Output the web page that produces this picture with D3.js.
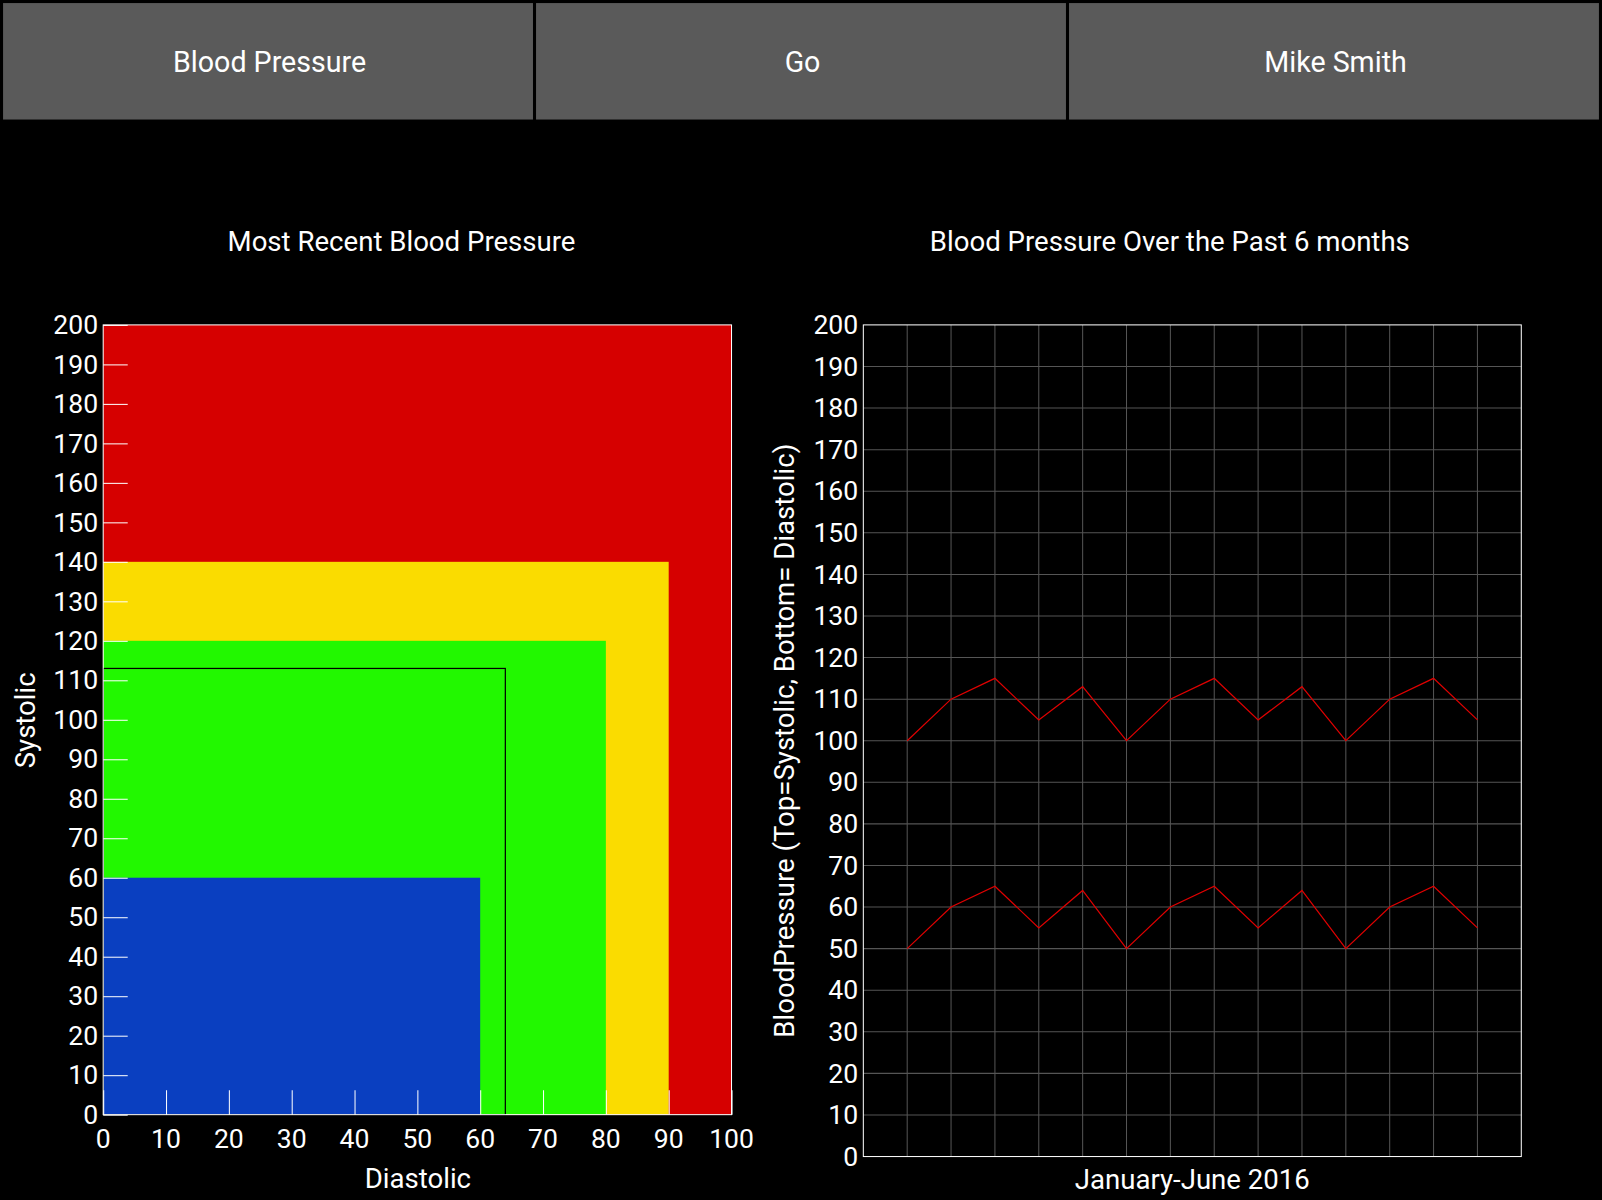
<!DOCTYPE html>
<html><head><meta charset="utf-8">
<script src="https://cdn.jsdelivr.net/npm/d3@7"></script>
<style>body{margin:0;background:#000;font-family:Roboto,sans-serif}</style>
</head><body><svg id="c" width="1602" height="1200"></svg>
<script>
const buttons = ['Blood Pressure', 'Go', 'Mike Smith'];
// zones: [diastolic max, systolic max, colour]
const zones = [[100, 200, '#d60000'], [90, 140, '#fadc00'], [80, 120, '#22f800'], [60, 60, '#0a3fc0']];
const latest = { diastolic: 64, systolic: 113 };
const systolic = [100, 110, 115, 105, 113, 100, 110, 115, 105, 113, 100, 110, 115, 105];
const diastolic = [50, 60, 65, 55, 64, 50, 60, 65, 55, 64, 50, 60, 65, 55];

const root = d3.select('#c');
root.append('rect').attr('width', 1602).attr('height', 1200).attr('fill', '#000');
const svg = root.append('g').attr('transform', `scale(${1602 / 1568})`);

const bx = d3.scaleBand().domain(buttons).range([3, 1568]);
const bg = svg.selectAll('g.b').data(buttons).enter().append('g');
bg.append('rect').attr('x', d => bx(d)).attr('y', 3).attr('width', bx.bandwidth() - 3).attr('height', 114).attr('fill', '#5a5a5a');
bg.append('text').attr('x', d => bx(d) + bx.bandwidth() / 2).attr('y', 70).attr('text-anchor', 'middle')
  .attr('fill', '#fff').attr('font-size', 28).text(d => d);

const txt = (x, y, s, size, rot) => svg.append('text').attr('transform', `translate(${x},${y})` + (rot ? 'rotate(-90)' : ''))
  .attr('text-anchor', 'middle').attr('fill', '#fff').attr('font-size', size).text(s);

// left chart
txt(393, 246, 'Most Recent Blood Pressure', 27);
const x1 = d3.scaleLinear().domain([0, 100]).range([101, 716]);
const y1 = d3.scaleLinear().domain([0, 200]).range([1091, 318]);
svg.selectAll('rect.z').data(zones).enter().append('rect')
  .attr('x', x1(0)).attr('y', d => y1(d[1])).attr('width', d => x1(d[0]) - x1(0)).attr('height', d => y1(0) - y1(d[1])).attr('fill', d => d[2]);
svg.append('rect').attr('x', x1(0)).attr('y', y1(latest.systolic)).attr('width', x1(latest.diastolic) - x1(0))
  .attr('height', y1(0) - y1(latest.systolic)).attr('fill', 'none').attr('stroke', '#000').attr('stroke-width', 1.2);
svg.append('rect').attr('x', 101).attr('y', 318).attr('width', 615).attr('height', 773).attr('fill', 'none').attr('stroke', '#fff');
const ax1 = svg.append('g').attr('transform', `translate(101,0)`).call(d3.axisRight(y1).ticks(20).tickSize(24).tickFormat(''));
const ay1 = svg.append('g').attr('transform', `translate(0,1091)`).call(d3.axisTop(x1).ticks(10).tickSize(24).tickFormat(''));
[ax1, ay1].forEach(a => { a.select('.domain').remove(); a.selectAll('line').attr('stroke', '#fff'); });
svg.append('g').selectAll('text').data(y1.ticks(20)).enter().append('text').attr('x', 96).attr('y', d => y1(d) + 9)
  .attr('text-anchor', 'end').attr('fill', '#fff').attr('font-size', 26).text(d => d);
svg.append('g').selectAll('text').data(x1.ticks(10)).enter().append('text').attr('x', d => x1(d)).attr('y', 1124)
  .attr('text-anchor', 'middle').attr('fill', '#fff').attr('font-size', 26).text(d => d);
txt(409, 1163, 'Diastolic', 27);
txt(34, 705, 'Systolic', 27, true);

// right chart
txt(1145, 246, 'Blood Pressure Over the Past 6 months', 27);
const x2 = d3.scaleLinear().domain([0, systolic.length + 1]).range([845, 1489]);
const y2 = d3.scaleLinear().domain([0, 200]).range([1132, 318]);
const grid = svg.append('g').attr('stroke', '#555').attr('stroke-width', 1);
grid.selectAll('line.v').data(d3.range(1, systolic.length + 1)).enter().append('line')
  .attr('x1', d => x2(d)).attr('x2', d => x2(d)).attr('y1', 318).attr('y2', 1132);
grid.selectAll('line.h').data(y2.ticks(20).slice(1, -1)).enter().append('line')
  .attr('x1', 845).attr('x2', 1489).attr('y1', d => y2(d)).attr('y2', d => y2(d));
svg.append('rect').attr('x', 845).attr('y', 318).attr('width', 644).attr('height', 814).attr('fill', 'none').attr('stroke', '#fff');
const line = d3.line().x((d, i) => x2(i + 1)).y(d => y2(d));
[systolic, diastolic].forEach(s => svg.append('path').datum(s).attr('d', line).attr('fill', 'none').attr('stroke', '#e00000').attr('stroke-width', 1.2));
svg.append('g').selectAll('text').data(y2.ticks(20)).enter().append('text').attr('x', 840).attr('y', d => y2(d) + 9)
  .attr('text-anchor', 'end').attr('fill', '#fff').attr('font-size', 26).text(d => d);
txt(1167, 1164, 'January-June 2016', 27);
txt(777, 725, 'BloodPressure (Top=Systolic, Bottom= Diastolic)', 27, true);
</script></body></html>
